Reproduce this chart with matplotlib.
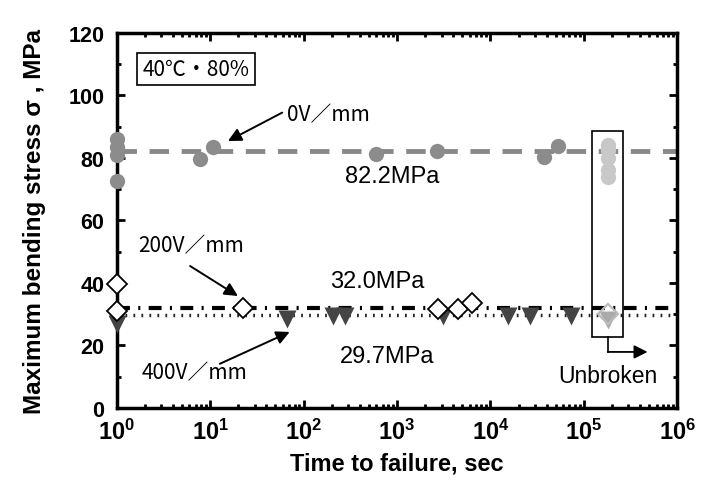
import numpy as np
import matplotlib.pyplot as plt
from matplotlib.ticker import MultipleLocator, LogLocator, NullFormatter

# 0V/mm (broken)
t_0v = [1, 1, 1, 1, 7.8, 10.7, 600, 2700, 37000, 53000]
s_0v = [86, 83.5, 81, 72.5, 79.5, 83.5, 81.2, 82.2, 80.3, 83.8]
# 200V/mm (broken)
t_200v = [1, 1, 22.5, 2750, 4450, 6350]
s_200v = [39.7, 31, 32, 31.8, 31.8, 33.5]
# 400V/mm (broken)
t_400v = [1, 1, 66, 205, 277, 3100, 15500, 26700, 72000]
s_400v = [27, 28.5, 28.5, 29.5, 29.5, 29.3, 29.5, 29.5, 29.5]
# unbroken specimens
t_unb = [1.8e5] * 5
s_unb_0v = [84, 82.5, 80, 76, 74]
s_unb_200v = [30]
s_unb_400v = [28]

mean_0v, mean_200v, mean_400v = 82.2, 32.0, 29.7

plt.rcParams['font.family'] = ['Liberation Sans', 'DejaVu Sans']
plt.rcParams['mathtext.fontset'] = 'custom'
plt.rcParams['mathtext.rm'] = 'Liberation Sans'
plt.rcParams['mathtext.bf'] = 'Liberation Sans:bold'
jp = ['Noto Sans CJK JP', 'DejaVu Sans']
narrow = ['Liberation Sans Narrow', 'Liberation Sans', 'DejaVu Sans']

fig = plt.figure(figsize=(7.16, 4.85), dpi=100)
ax = fig.add_axes([0.163, 0.157, 0.783, 0.773])

ax.axhline(mean_0v, color='#888888', lw=3.5, ls=(0, (4, 2.6)), zorder=1)
ax.axhline(mean_200v, color='black', lw=3, ls=(0, (3.1, 2.0, 0.5, 2.0)), zorder=1)
ax.axhline(mean_400v, color='#222222', lw=2.5, ls=(0, (0.5, 1.8)), zorder=1)

ax.plot(t_0v, s_0v, 'o', ms=11, color='#8c8c8c', mec='none', zorder=3, clip_on=False)
ax.plot(t_400v, s_400v, 'v', ms=13, color='#444444', mec='none', zorder=3, clip_on=False)
ax.plot(t_200v, s_200v, 'D', ms=10, mfc='white', mec='black', mew=1.3, zorder=4, clip_on=False)
ax.plot(t_unb, s_unb_0v, 'o', ms=11, color='#c8c8c8', mec='none', zorder=3)
ax.plot(t_unb[:1], s_unb_400v, 'v', ms=13, color='#aaaaaa', mec='none', zorder=3)
ax.plot(t_unb[:1], s_unb_200v, 'D', ms=10, mfc='none', mec='#bbbbbb', mew=1.6, zorder=4)

ax.set_xscale('log')
ax.set_xlim(1, 1e6)
ax.set_ylim(0, 120)
ax.yaxis.set_major_locator(MultipleLocator(20))
ax.yaxis.set_minor_locator(MultipleLocator(10))
ax.xaxis.set_minor_locator(LogLocator(base=10, subs=np.arange(2, 10), numticks=10))
ax.xaxis.set_minor_formatter(NullFormatter())
ax.set_xticks(10.0 ** np.arange(7))
ax.set_xticklabels([r'$\mathbf{10^{%d}}$' % i for i in range(7)])

for s in ax.spines.values():
    s.set_linewidth(2.5)
ax.tick_params(which='both', direction='in', top=True, right=True, width=2)
ax.tick_params(which='major', length=6)
ax.tick_params(which='minor', length=3)
ax.tick_params(axis='y', labelsize=15.5, pad=9)
ax.tick_params(axis='x', labelsize=17, pad=8)
for lab in ax.get_yticklabels():
    lab.set_fontweight('bold')

ax.set_xlabel('Time to failure, sec', fontsize=17, fontweight='bold', labelpad=5)
ax.set_ylabel('Maximum bending stress σ , MPa', fontsize=17.5, fontweight='bold', labelpad=16)

# condition box
ax.text(7.05, 108.5, '40℃・80%', fontsize=15, family=jp, ha='center', va='center',
        bbox=dict(boxstyle='square,pad=0.25', fc='white', ec='black', lw=1.2))

arrow = dict(arrowstyle='-|>', color='black', lw=1.4, mutation_scale=20,
             shrinkA=0, shrinkB=0)

# labels and arrows
ax.text(66, 94, '0V／mm', fontsize=15, family=jp, va='center')
ax.annotate('', xy=(15.5, 85.4), xytext=(59, 94.5), arrowprops=arrow)
ax.text(277, 74.2, '82.2MPa', fontsize=17, family=narrow, va='center')

ax.text(1.68, 52.1, '200V／mm', fontsize=15, family=jp, va='center')
ax.annotate('', xy=(19.8, 35.8), xytext=(6.1, 45.4), arrowprops=arrow)
ax.text(192, 40.6, '32.0MPa', fontsize=17, family=narrow, va='center')

ax.text(1.85, 11.5, '400V／mm', fontsize=15, family=jp, va='center')
ax.annotate('', xy=(71, 24.3), xytext=(12.7, 14.1), arrowprops=arrow)
ax.text(245, 16.6, '29.7MPa', fontsize=17, family=narrow, va='center')

# unbroken box and bracket arrow
ax.add_patch(plt.Rectangle((1.23e5, 22.7), 2.64e5 - 1.23e5, 88.6 - 22.7,
                           fill=False, ec='black', lw=1.2, zorder=5))
ax.plot([1.8e5, 1.8e5], [22.7, 17.9], color='black', lw=1.2)
ax.annotate('', xy=(4.8e5, 17.9), xytext=(1.8e5, 17.9),
            arrowprops=dict(arrowstyle='-|>', color='black', lw=1.3,
                            mutation_scale=20, shrinkA=0, shrinkB=0))
ax.text(1.8e5, 10.2, 'Unbroken', fontsize=16.5, ha='center', va='center')

fig.savefig('out.png', dpi=100)
